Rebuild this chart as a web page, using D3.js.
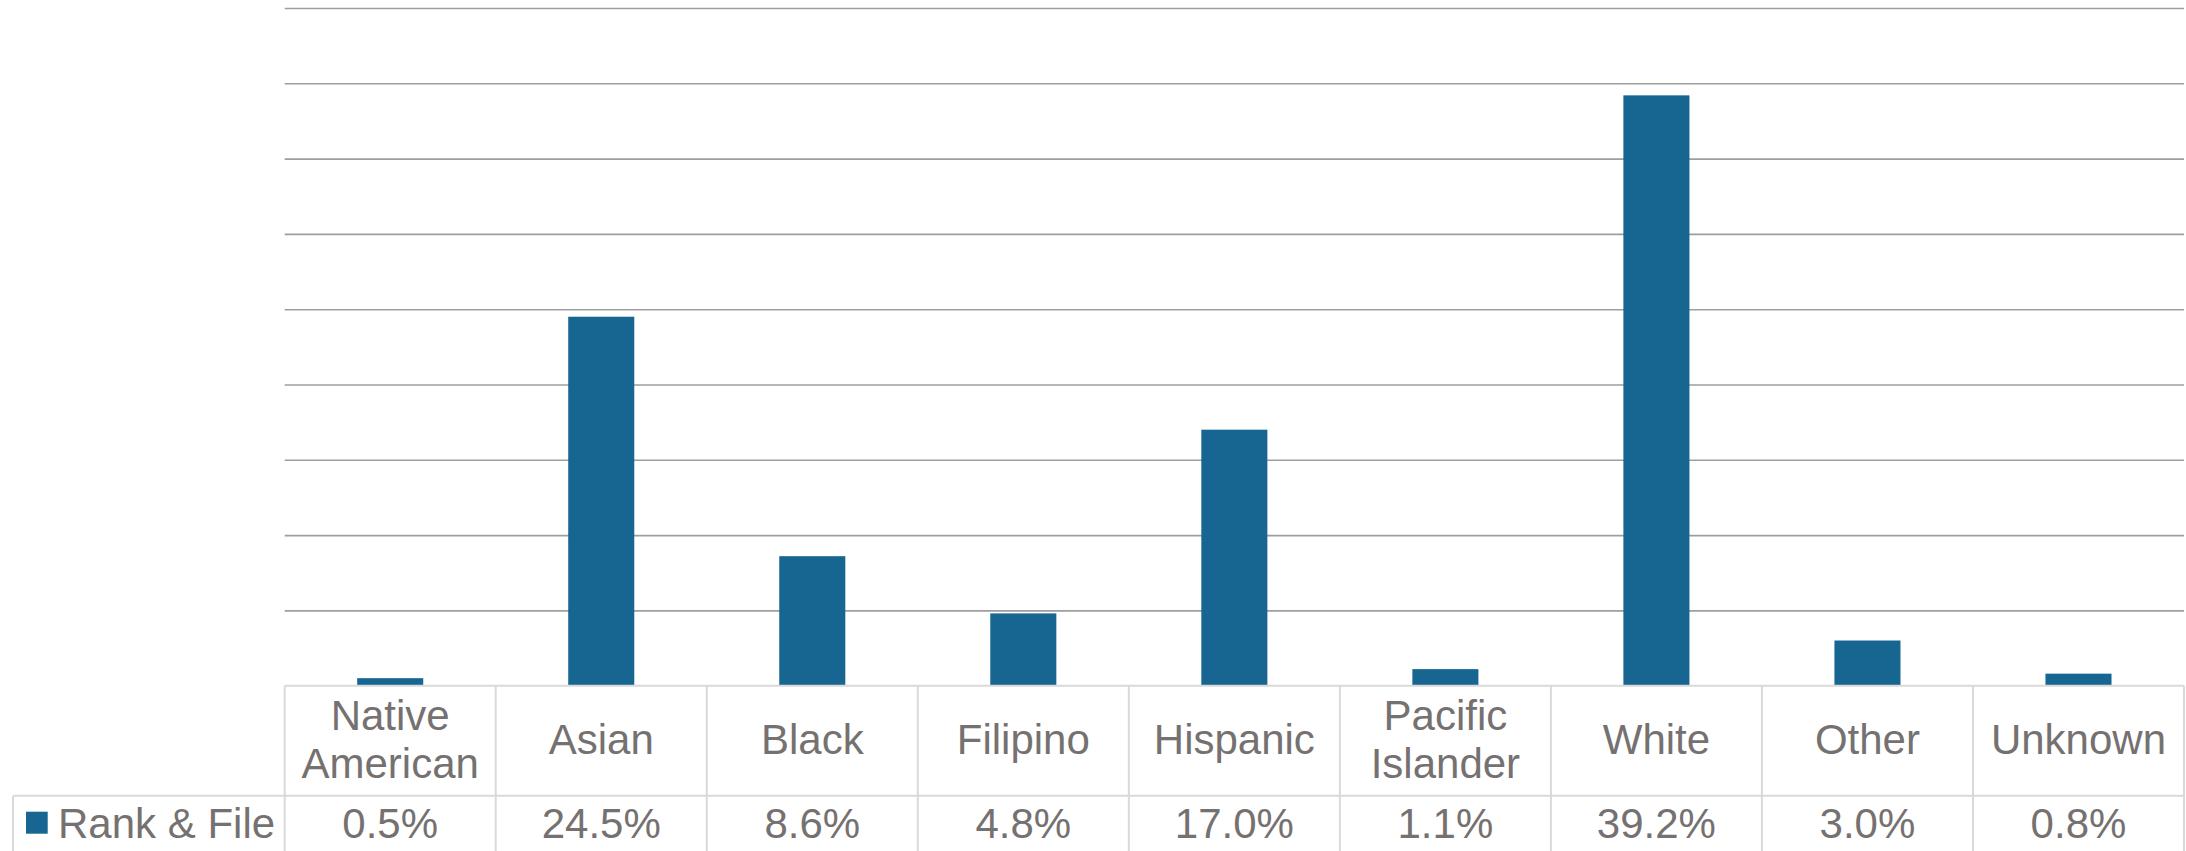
<!DOCTYPE html>
<html>
<head>
<meta charset="utf-8">
<script src="https://cdn.jsdelivr.net/npm/d3@7"></script>
<style>
  html, body { margin: 0; padding: 0; background: #ffffff; }
  svg { display: block; }
</style>
</head>
<body>
<svg id="chart" width="2186" height="851"></svg>
<script>
// Workforce share by race / ethnicity (percent)
const categories = ["Native\nAmerican", "Asian", "Black", "Filipino", "Hispanic", "Pacific\nIslander", "White", "Other", "Unknown"];
const rankAndFile = [0.5, 24.5, 8.6, 4.8, 17.0, 1.1, 39.2, 3.0, 0.8];
const seriesName = "Rank & File";
const yTicks = [5, 10, 15, 20, 25, 30, 35, 40, 45];
const yMax = 45;

const W = 2186, H = 851;
const plotLeft = 284.7, plotRight = 2184, plotTop = 8, baseline = 685.7;
const headerBottom = 795.7, tableBottom = 851, legendLeft = 13;

const barColor = "#176591";
const textColor = "#767171";
const gridColor = "#9e9e9e";
const tableColor = "#d9d9d9";
const font = "'Liberation Sans', Arial, Helvetica, sans-serif";
const fontSize = 42;

const svg = d3.select("#chart");

const x = d3.scaleBand().domain(categories).range([plotLeft, plotRight]).padding(0);
const y = d3.scaleLinear().domain([0, yMax]).range([baseline, plotTop]);
const barW = x.bandwidth() * 0.313;

// Horizontal gridlines
const grid = svg.append("g")
  .attr("transform", `translate(${plotLeft},0)`)
  .call(d3.axisLeft(y).tickValues(yTicks).tickSize(-(plotRight - plotLeft)).tickFormat(""));
grid.select(".domain").remove();
grid.selectAll(".tick line").attr("stroke", gridColor).attr("stroke-width", 1.6);

// Bars
svg.append("g").selectAll("rect")
  .data(rankAndFile)
  .join("rect")
  .attr("x", (d, i) => x(categories[i]) + (x.bandwidth() - barW) / 2)
  .attr("y", d => y(d))
  .attr("width", barW)
  .attr("height", d => y(0) - y(d))
  .attr("fill", barColor);

// Data table borders
const table = svg.append("g").attr("stroke", tableColor).attr("stroke-width", 2).attr("fill", "none");
table.append("line").attr("x1", plotLeft).attr("x2", plotRight).attr("y1", baseline).attr("y2", baseline);
table.append("line").attr("x1", legendLeft).attr("x2", plotRight).attr("y1", headerBottom).attr("y2", headerBottom);
table.append("line").attr("x1", legendLeft).attr("x2", legendLeft).attr("y1", headerBottom).attr("y2", tableBottom);
const colEdges = categories.map(c => x(c)).concat([plotRight]);
table.selectAll("line.col")
  .data(colEdges)
  .join("line")
  .attr("class", "col")
  .attr("x1", d => d).attr("x2", d => d)
  .attr("y1", baseline).attr("y2", tableBottom);

// Category header cells
const headerMid = (baseline + headerBottom) / 2;
const lineGap = 48;
const headers = svg.append("g")
  .attr("font-family", font).attr("font-size", fontSize).attr("fill", textColor)
  .attr("text-anchor", "middle");
categories.forEach(c => {
  const lines = c.split("\n");
  const t = headers.append("text");
  lines.forEach((ln, i) => {
    t.append("tspan")
      .attr("x", x(c) + x.bandwidth() / 2)
      .attr("y", headerMid + 13.6 + (i - (lines.length - 1) / 2) * lineGap)
      .text(ln);
  });
});

// Value row
const fmt = d3.format(".1f");
svg.append("g")
  .attr("font-family", font).attr("font-size", fontSize).attr("fill", textColor)
  .attr("text-anchor", "middle")
  .selectAll("text")
  .data(rankAndFile)
  .join("text")
  .attr("x", (d, i) => x(categories[i]) + x.bandwidth() / 2)
  .attr("y", 838.3)
  .text(d => fmt(d) + "%");

// Legend key in the table's first column
svg.append("rect")
  .attr("x", 26).attr("y", 811.7).attr("width", 21.7).attr("height", 22)
  .attr("fill", barColor);
svg.append("text")
  .attr("x", 58).attr("y", 837.5)
  .attr("font-family", font).attr("font-size", fontSize).attr("fill", textColor)
  .text(seriesName);
</script>
</body>
</html>
